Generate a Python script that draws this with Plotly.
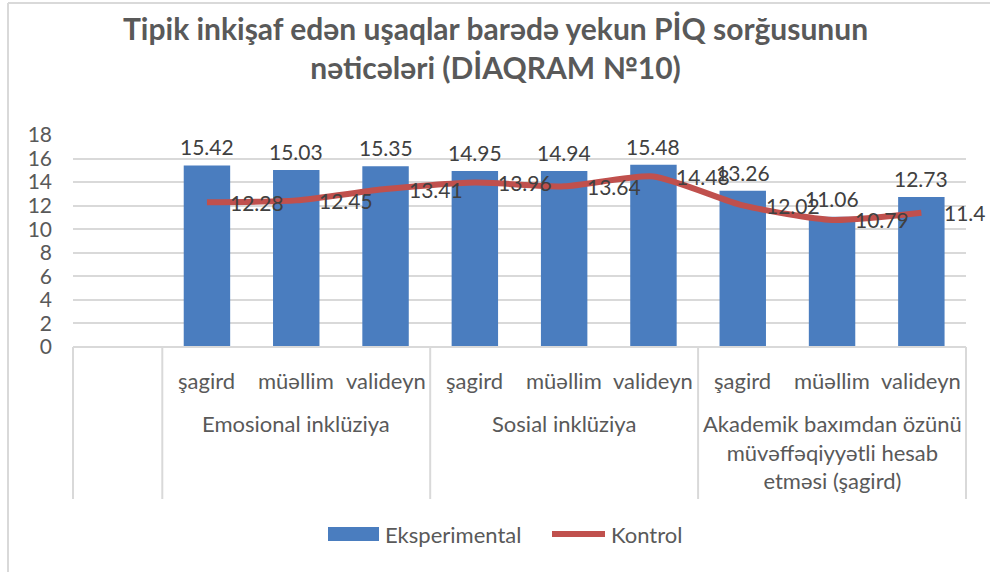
import plotly.graph_objects as go

# ---- data ----
groups = ["Emosional inklüziya", "Sosial inklüziya",
          "Akademik baxımdan özünü<br>müvəffəqiyyətli hesab<br>etməsi (şagird)"]
categories = ["", "şagird", "müəllim", "valideyn", "şagird", "müəllim", "valideyn",
              "şagird", "müəllim", "valideyn"]
eksperimental = [None, 15.42, 15.03, 15.35, 14.95, 14.94, 15.48, 13.26, 11.06, 12.73]
kontrol = [None, 12.28, 12.45, 13.41, 13.96, 13.64, 14.48, 12.02, 10.79, 11.4]
y_ticks = [0, 2, 4, 6, 8, 10, 12, 14, 16, 18]
title_text = "<b>Tipik inkişaf edən uşaqlar barədə yekun PİQ sorğusunun<br>nəticələri (DİAQRAM №10)</b>"

FONT = "Lato"
BLUE = "#4a7dbf"
RED = "#c0504d"
TXT = "#404040"
AX = "#595959"
GRID = "#d9d9d9"

# plot area geometry (pixels)
L, R, T, B = 73, 966, 135, 347
PW, PH = R - L, B - T

def py(ypix):
    return (B - ypix) / PH

def pxp(xpix):
    return (xpix - L) / PW

xs = list(range(len(categories)))
bx = [x for x, v in zip(xs, eksperimental) if v is not None]
bv = [v for v in eksperimental if v is not None]
lx = [x for x, v in zip(xs, kontrol) if v is not None]
lv = [v for v in kontrol if v is not None]

fig = go.Figure()
fig.add_trace(go.Bar(x=bx, y=bv, name="Eksperimental", width=0.52,
                     marker=dict(color=BLUE, line=dict(width=0)),
                     hoverinfo="x+y"))
fig.add_trace(go.Scatter(x=lx, y=lv, name="Kontrol", mode="lines",
                         line=dict(color=RED, width=6, shape="spline", smoothing=0.6)))

ann = []
for x, v in zip(bx, bv):
    ann.append(dict(x=x, y=v, xref="x", yref="y", text=f"{v:g}", showarrow=False,
                    yanchor="bottom", xanchor="center", yshift=4,
                    font=dict(family=FONT, size=21, color=TXT)))
for x, v in zip(lx, lv):
    ann.append(dict(x=x, y=v, xref="x", yref="y", text=f"{v:g}", showarrow=False,
                    yanchor="middle", xanchor="left", xshift=21,
                    font=dict(family=FONT, size=21, color=TXT)))

n = len(categories)
def px(xd):
    return (xd + 0.5) / n

# category labels
for x, c in zip(xs, categories):
    if c:
        ann.append(dict(x=px(x), y=py(380), xref="paper", yref="paper", text=c,
                        showarrow=False, yanchor="middle", xanchor="center",
                        font=dict(family=FONT, size=22, color=AX)))
for gi, g in enumerate(groups):
    center = 2 + gi * 3
    ann.append(dict(x=px(center), y=py(408), xref="paper", yref="paper", text=g,
                    showarrow=False, yanchor="top", xanchor="center", align="center",
                    font=dict(family=FONT, size=22, color=AX)))

# title
ann.append(dict(x=pxp(495), y=py(48), xref="paper", yref="paper", text=title_text,
                showarrow=False, xanchor="center", yanchor="middle", align="center",
                font=dict(family=FONT, size=30, color=AX)))

shapes = []
for d in [-0.5, 0.5, 3.5, 6.5, 9.5]:
    shapes.append(dict(type="line", xref="paper", yref="paper",
                       x0=px(d), x1=px(d), y0=0, y1=py(499),
                       line=dict(color=GRID, width=2)))
shapes.append(dict(type="line", xref="paper", yref="paper", x0=0, x1=1, y0=0, y1=0,
                   line=dict(color=GRID, width=2)))
# chart border (left + top)
shapes.append(dict(type="line", xref="paper", yref="paper",
                   x0=pxp(8), x1=pxp(8), y0=py(575), y1=py(3),
                   line=dict(color=GRID, width=2)))
shapes.append(dict(type="line", xref="paper", yref="paper",
                   x0=pxp(8), x1=pxp(995), y0=py(3), y1=py(3),
                   line=dict(color=GRID, width=2)))

# custom legend
ly = py(534)
shapes.append(dict(type="rect", xref="paper", yref="paper",
                   x0=pxp(328), x1=pxp(379), y0=py(541), y1=py(527),
                   fillcolor=BLUE, line=dict(width=0)))
shapes.append(dict(type="line", xref="paper", yref="paper",
                   x0=pxp(552), x1=pxp(605), y0=ly, y1=ly,
                   line=dict(color=RED, width=6)))
ann.append(dict(x=pxp(383), y=ly, xref="paper", yref="paper", text="Eksperimental",
                showarrow=False, xanchor="left", yanchor="middle",
                font=dict(family=FONT, size=22, color=AX)))
ann.append(dict(x=pxp(609), y=ly, xref="paper", yref="paper", text="Kontrol",
                showarrow=False, xanchor="left", yanchor="middle",
                font=dict(family=FONT, size=22, color=AX)))

fig.update_layout(
    width=990, height=572,
    margin=dict(l=L, r=990 - R, t=T, b=572 - B),
    paper_bgcolor="white", plot_bgcolor="white",
    showlegend=False,
    xaxis=dict(range=[-0.5, n - 0.5], showticklabels=False, showgrid=False,
               zeroline=False, showline=False, ticks=""),
    yaxis=dict(range=[0, 18], tickvals=y_ticks, showgrid=True, gridcolor=GRID, gridwidth=2,
               zeroline=False, showline=False, ticks="", ticklabelstandoff=20,
               tickfont=dict(family=FONT, size=21, color=AX)),
    annotations=ann, shapes=shapes,
)

fig.write_html("out.html", config={"displayModeBar": False},
               post_script="document.body.style.margin='0';document.body.style.overflow='hidden';")
